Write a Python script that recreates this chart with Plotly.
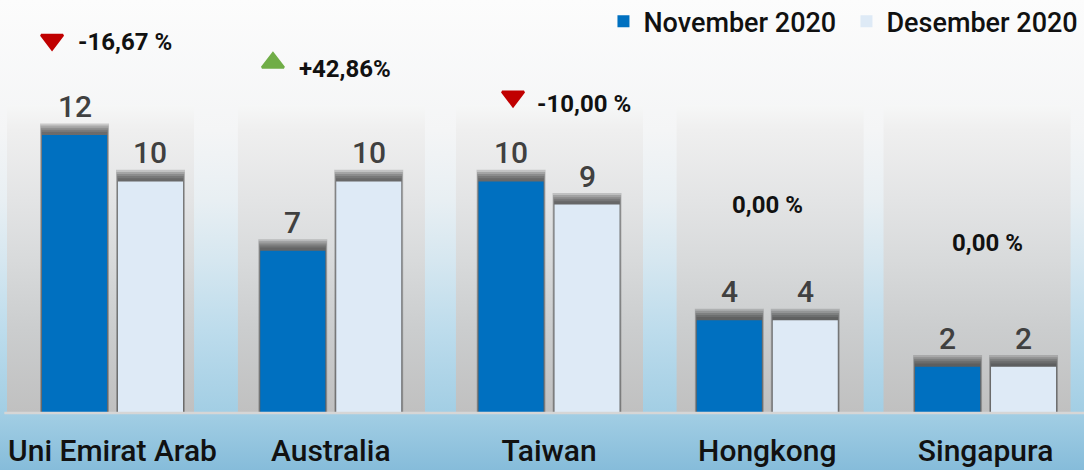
import plotly.graph_objects as go

# ---------------- data ----------------
categories = ["Uni Emirat Arab", "Australia", "Taiwan", "Hongkong", "Singapura"]
nov_2020 = [12, 7, 10, 4, 2]
dec_2020 = [10, 10, 9, 4, 2]
series_names = ["November 2020", "Desember 2020"]
change_labels = ["-16,67 %", "+42,86%", "-10,00 %", "0,00 %", "0,00 %"]
change_direction = ["down", "up", "down", "flat", "flat"]

# ---------------- layout constants ----------------
W, H = 1084, 470
X_RANGE = [-0.5155, 4.451]
Y_RANGE = [-2.46, 17.83]
BAR_W = 0.298
NOV_OFF = -0.323
DEC_OFF = 0.025

# annotation placement for the change labels (x = left edge, y = middle)
change_text_x = [-0.167, 0.844, 1.936, 2.829, 3.837]
change_text_y = [16.0, 14.83, 13.34, 8.96, 7.36]
# triangle indicator placement
change_marker_x = [-0.277, 0.735, 1.835]
change_marker_y = [16.11, 15.12, 13.66]
# decorative panel offsets / extents (category units)
panel_offset = [-0.055, 0.003, 0.002, 0.013, -0.039]
PANEL_HALF = 0.4285
PANEL_TOP = 13.3

FONT = "Roboto, Liberation Sans, sans-serif"

idx = list(range(len(categories)))

fig = go.Figure()

# background gradient (whole canvas) - drawn on the base subplot
bx0, bx1 = X_RANGE
by0, by1 = Y_RANGE
fig.add_trace(go.Scatter(
    x=[bx0, bx1, bx1, bx0, bx0], y=[by0, by0, by1, by1, by0],
    mode="lines", line=dict(width=0), fill="toself",
    fillgradient=dict(type="vertical", start=by0, stop=by1,
                      colorscale=[[0, "#86bcda"], [0.121, "#a2cee4"], [0.298, "#bddcec"],
                                  [0.447, "#d6e7f0"], [0.574, "#e8eff3"], [0.723, "#f4f5f6"],
                                  [1, "#fcfcfc"]]),
    hoverinfo="skip", showlegend=False, xaxis="x", yaxis="y"))

# grey panels behind each category
for i in idx:
    c = i + panel_offset[i]
    px0, px1 = c - PANEL_HALF, c + PANEL_HALF
    fig.add_trace(go.Scatter(
        x=[px0, px1, px1, px0, px0], y=[0, 0, PANEL_TOP, PANEL_TOP, 0],
        mode="lines", line=dict(width=0), fill="toself",
        fillgradient=dict(type="vertical", start=0, stop=PANEL_TOP,
                          colorscale=[[0, "#c0c0c0"], [0.269, "#cbcdce"], [0.496, "#d8dadb"],
                                      [0.691, "#e3e4e5"], [0.919, "#efefef"], [1, "#f6f7f7"]]),
        hoverinfo="skip", showlegend=False, xaxis="x", yaxis="y"))

# soft blurred shadows above each bar (overlay subplot, drawn above the base one)
shadow_layers = [(0.009, 0.50), (0.007, 0.41), (0.005, 0.32), (0.003, 0.23), (0.001, 0.14)]
SHADOW_COL = "rgba(45,45,45,0.2)"
for vals, off in ((nov_2020, NOV_OFF), (dec_2020, DEC_OFF)):
    for grow, extra in shadow_layers:
        fig.add_trace(go.Bar(
            x=idx, y=[v + extra for v in vals], offset=off - grow, width=BAR_W + 2 * grow,
            marker=dict(color=SHADOW_COL, line=dict(width=0)),
            hoverinfo="skip", showlegend=False, xaxis="x2", yaxis="y2"))

# the bars
fig.add_trace(go.Bar(x=idx, y=nov_2020, name=series_names[0], offset=NOV_OFF, width=BAR_W,
                     marker=dict(color="#0070c0", line=dict(width=0)),
                     xaxis="x2", yaxis="y2"))
fig.add_trace(go.Bar(x=idx, y=dec_2020, name=series_names[1], offset=DEC_OFF, width=BAR_W,
                     marker=dict(color="#deeaf6", line=dict(width=0)),
                     xaxis="x2", yaxis="y2"))

# value labels
VAL_FONT = dict(family=FONT, size=30, color="#404040", weight=500)
for vals, off in ((nov_2020, NOV_OFF), (dec_2020, DEC_OFF)):
    for i, v in zip(idx, vals):
        fig.add_annotation(x=i + off + BAR_W / 2, y=v, xref="x2", yref="y2", text=str(v),
                           showarrow=False, yanchor="bottom", yshift=9, font=VAL_FONT)

# change indicators
tri_sym = {"down": "triangle-down", "up": "triangle-up"}
tri_col = {"down": "#c00000", "up": "#70ad47"}
dirs = [d for d in change_direction if d != "flat"]
fig.add_trace(go.Scatter(
    x=change_marker_x, y=change_marker_y, mode="markers",
    marker=dict(symbol=[tri_sym[d] for d in dirs], size=19,
                color=[tri_col[d] for d in dirs],
                line=dict(width=2.5, color=[tri_col[d] for d in dirs])),
    hoverinfo="skip", showlegend=False, xaxis="x2", yaxis="y2"))

PCT_FONT = dict(family=FONT, size=24, color="#111111", weight="bold")
for tx, ty, lab in zip(change_text_x, change_text_y, change_labels):
    fig.add_annotation(x=tx, y=ty, xref="x2", yref="y2", text=lab, showarrow=False,
                       xanchor="left", yanchor="middle", font=PCT_FONT)

# baseline
fig.add_shape(type="line", xref="paper", yref="y", x0=0.004, x1=1, y0=0, y1=0,
              line=dict(color="#d6d6d6", width=2.5), layer="above")

fig.update_layout(
    width=W, height=H,
    margin=dict(l=0, r=0, t=0, b=0, autoexpand=False),
    paper_bgcolor="#ffffff", plot_bgcolor="rgba(0,0,0,0)",
    barmode="overlay",
    showlegend=True,
    legend=dict(orientation="h", x=0.5567, y=1.006, xanchor="left", yanchor="top",
                entrywidth=198, entrywidthmode="pixels",
                font=dict(family=FONT, size=27, color="#111111", weight=500),
                bgcolor="rgba(0,0,0,0)", traceorder="normal"),
    xaxis=dict(range=X_RANGE, tickvals=idx, ticktext=categories, showgrid=False,
               zeroline=False, showline=False, ticks="", anchor="free", position=0,
               ticklabelposition="inside",
               tickfont=dict(family=FONT, size=30, color="#111111", weight=500)),
    yaxis=dict(range=Y_RANGE, visible=False, showgrid=False, zeroline=False),
    xaxis2=dict(range=X_RANGE, overlaying="x", visible=False, anchor="y2"),
    yaxis2=dict(range=Y_RANGE, overlaying="y", visible=False, anchor="x2"),
    hovermode=False,
)

fig.write_html("out.html", config={"displayModeBar": False},
               post_script="document.body.style.margin='0px';document.body.style.padding='0px';")
